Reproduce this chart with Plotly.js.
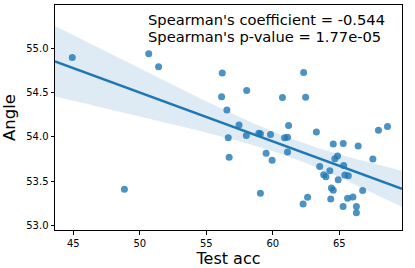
<!DOCTYPE html>
<html>
<head>
<meta charset="utf-8">
<script src="https://cdn.plot.ly/plotly-3.0.1.min.js"></script>
<style>html,body{margin:0;padding:0;background:#fff;}#chart{width:415px;height:268px;}</style>
</head>
<body>
<div id="chart"></div>
<script>
// Data
const testAcc = [44.92, 48.84, 50.67, 51.41, 56.20, 56.15, 58.04, 56.55, 57.46, 56.65,
  58.01, 58.95, 59.07, 59.83, 56.72, 59.50, 59.95, 59.07, 60.73, 61.19,
  60.89, 61.11, 61.11, 62.32, 62.47, 63.28, 62.28, 62.62, 63.53, 63.83,
  64.00, 64.29, 64.36, 64.41, 64.55, 64.55, 64.67, 64.87, 64.92, 65.30,
  65.33, 65.42, 65.68, 65.29, 65.63, 66.03, 66.29, 66.29, 66.42, 66.76,
  67.53, 67.95, 68.63];
const angle = [54.894, 53.41, 54.936, 54.79, 54.718, 54.451, 54.522, 54.301, 54.132, 53.989,
  54.015, 54.039, 54.034, 54.026, 53.771, 53.816, 53.737, 53.363, 54.443, 54.127,
  53.989, 53.994, 53.828, 54.725, 54.445, 54.054, 53.242, 53.320, 53.665, 53.572,
  53.549, 53.617, 53.298, 53.422, 53.397, 53.918, 53.752, 53.784, 53.515, 53.924,
  53.676, 53.569, 53.560, 53.214, 53.309, 53.321, 53.214, 53.145, 53.896, 53.395,
  53.750, 54.073, 54.116];
const statLines = ["Spearman's coefficient = -0.544", "Spearman's p-value = 1.77e-05"];
const xTickVals = [45, 50, 55, 60, 65];
const yTickVals = [53.0, 53.5, 54.0, 54.5, 55.0];
const yTickText = ["53.0", "53.5", "54.0", "54.5", "55.0"];

const xRange = [43.62, 69.72];
const yRange = [52.95, 55.485];

// Least squares fit and 95% confidence band
const n = testAcc.length;
const mx = testAcc.reduce((a, b) => a + b, 0) / n;
const my = angle.reduce((a, b) => a + b, 0) / n;
let sxx = 0, sxy = 0;
for (let i = 0; i < n; i++) { sxx += (testAcc[i] - mx) ** 2; sxy += (testAcc[i] - mx) * (angle[i] - my); }
const slope = sxy / sxx;
const icpt = my - slope * mx;
let sse = 0;
for (let i = 0; i < n; i++) { sse += (angle[i] - (icpt + slope * testAcc[i])) ** 2; }
const s = Math.sqrt(sse / (n - 2));
const tcrit = 2.008;
const gx = [], gy = [], up = [], lo = [];
const steps = 100;
for (let k = 0; k <= steps; k++) {
  const x = xRange[0] + (xRange[1] - xRange[0]) * k / steps;
  const y = icpt + slope * x;
  const se = s * Math.sqrt(1 / n + (x - mx) ** 2 / sxx);
  gx.push(x); gy.push(y); up.push(y + tcrit * se); lo.push(y - tcrit * se);
}
const bandX = gx.concat(gx.slice().reverse());
const bandY = up.concat(lo.slice().reverse());

const blue = '#1f77b4';
const traces = [
  { x: bandX, y: bandY, type: 'scatter', mode: 'lines', fill: 'toself',
    fillcolor: 'rgba(31,119,180,0.15)', line: { width: 0 }, hoverinfo: 'skip', showlegend: false },
  { x: testAcc, y: angle, type: 'scatter', mode: 'markers',
    marker: { color: 'rgba(31,119,180,0.8)', size: 7, line: { width: 0 } }, showlegend: false },
  { x: gx, y: gy, type: 'scatter', mode: 'lines', line: { color: blue, width: 2.5 }, showlegend: false }
];

const font = 'DejaVu Sans, sans-serif';
const layout = {
  width: 415, height: 268,
  margin: { l: 55, r: 13, t: 5, b: 38, pad: 0 },
  paper_bgcolor: '#fff', plot_bgcolor: '#fff',
  font: { family: font, color: '#000', size: 10 },
  showlegend: false,
  xaxis: {
    range: xRange, tickvals: xTickVals, ticks: 'outside', ticklen: 3.5, tickwidth: 1, tickcolor: '#000',
    showgrid: false, zeroline: false, showline: true, linecolor: '#000', linewidth: 1, mirror: true,
    tickfont: { size: 10, family: font, color: '#000' },
    title: { text: 'Test acc', font: { size: 16, family: font, color: '#000' }, standoff: 7 }
  },
  yaxis: {
    range: yRange, tickvals: yTickVals, ticktext: yTickText, ticks: 'outside', ticklen: 3.5, tickwidth: 1, tickcolor: '#000',
    showgrid: false, zeroline: false, showline: true, linecolor: '#000', linewidth: 1, mirror: true,
    tickfont: { size: 10, family: font, color: '#000' },
    title: { text: 'Angle', font: { size: 16.5, family: font, color: '#000' }, standoff: 8 }
  },
  annotations: [
    { text: statLines[0], xref: 'paper', yref: 'paper', x: 0.262, y: 0.935, xanchor: 'left', yanchor: 'middle',
      showarrow: false, font: { size: 14.7, family: font, color: '#000' } },
    { text: statLines[1], xref: 'paper', yref: 'paper', x: 0.262, y: 0.860, xanchor: 'left', yanchor: 'middle',
      showarrow: false, font: { size: 14.7, family: font, color: '#000' } }
  ]
};
Plotly.newPlot('chart', traces, layout, { displayModeBar: false, staticPlot: true });
</script>
</body>
</html>
